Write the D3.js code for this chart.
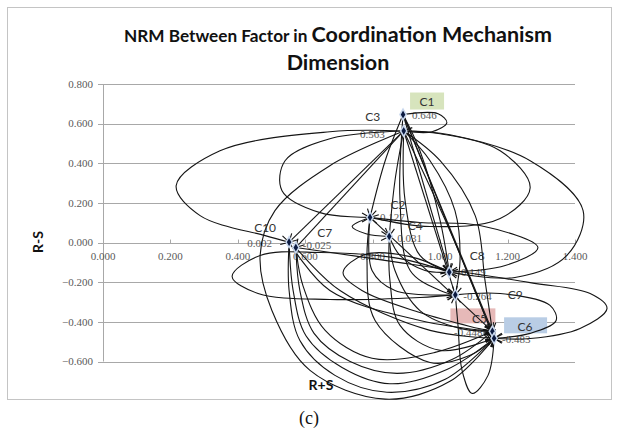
<!DOCTYPE html>
<html><head><meta charset="utf-8">
<script src="https://cdn.jsdelivr.net/npm/d3@7"></script>
<style>body{margin:0;background:#fff}</style>
</head><body>
<svg id="c" width="618" height="434"></svg>
<script>
// ---------- data ----------
const nodeNames  = ["C1","C3","C2","C4","C10","C7","C8","C9","C5","C6"];
const rPlusS     = [0.890,0.892,0.792,0.849,0.552,0.572,1.027,1.045,1.155,1.160];
const rMinusS    = [0.646,0.563,0.127,0.031,0.002,-0.025,-0.149,-0.264,-0.448,-0.483];
const valueText  = ["0.646","0.563","0.127","0.031","0.002","-0.025","-0.149","-0.264","-0.448","-0.483"];
const xTicks = [0.0,0.2,0.4,0.6,0.8,1.0,1.2,1.4];
const yTicks = [0.8,0.6,0.4,0.2,0.0,-0.2,-0.4,-0.6];
const titleLine1a = "NRM Between Factor in ";
const titleLine1b = "Coordination Mechanism";
const titleLine2 = "Dimension";
const xTitle = "R+S", yTitle = "R-S", caption = "(c)";

// influence arrows: [from, to, intermediate points of the curve in (R+S, R-S) units]
const edgeFrom = ["C1","C3","C3","C3","C10","C10","C7","C7","C2","C4","C4","C8","C8","C3","C3","C2","C7","C9","C6",
                  "C3","C3","C1","C3","C3","C3","C1","C3","C1","C3","C1","C2","C2","C4","C2","C10","C7","C1","C3","C1"];
const edgeTo   = ["C3","C10","C2","C6","C6","C6","C5","C5","C6","C6","C5","C9","C5","C2","C8","C8","C6","C6","C9",
                  "C10","C7","C2","C4","C5","C9","C8","C6","C6","C8","C9","C4","C5","C8","C9","C5","C6","C5","C9","C8"];
const edgeVia  = [
  [[0.994,0.650],[1.020,0.605],[0.976,0.559]],
  [[0.673,0.559],[0.347,0.463],[0.217,0.287],[0.288,0.136],[0.481,0.035]],
  [[0.673,0.524],[0.540,0.413],[0.531,0.262],[0.644,0.151]],
  [[0.673,0.388],[0.510,0.161],[0.466,-0.065],[0.501,-0.343],[0.614,-0.645],[0.837,-0.790],[1.029,-0.700]],
  [[0.552,-0.242],[0.584,-0.494],[0.688,-0.670],[0.842,-0.755],[1.015,-0.690]],
  [[0.564,-0.242],[0.602,-0.470],[0.709,-0.630],[0.851,-0.712],[1.020,-0.640]],
  [[0.584,-0.242],[0.626,-0.458],[0.733,-0.600],[0.872,-0.660],[1.035,-0.590]],
  [[0.593,-0.217],[0.659,-0.443],[0.798,-0.584],[0.985,-0.554]],
  [[0.783,-0.091],[0.807,-0.393],[0.970,-0.605],[1.089,-0.569]],
  [[0.851,-0.191],[0.881,-0.418],[1.000,-0.544]],
  [[0.866,-0.141],[0.940,-0.343],[1.059,-0.433]],
  [[0.881,-0.081],[0.644,-0.050],[0.466,-0.065],[0.383,-0.171],[0.460,-0.257],[0.673,-0.287],[0.940,-0.277]],
  [[0.911,-0.071],[0.777,-0.060],[0.712,-0.151],[0.768,-0.242],[0.940,-0.353],[1.089,-0.423]],
  [[1.000,0.549],[1.178,0.463],[1.267,0.277],[1.178,0.121],[0.970,0.081]],
  [[1.029,0.544],[1.267,0.413],[1.424,0.161],[1.376,-0.065],[1.222,-0.176]],
  [[0.940,0.101],[1.118,0.086],[1.290,-0.025],[1.193,-0.116]],
  [[0.881,-0.101],[1.267,-0.202],[1.445,-0.257],[1.495,-0.332],[1.415,-0.433],[1.267,-0.484]],
  [[1.178,-0.257],[1.326,-0.317],[1.344,-0.393],[1.267,-0.458]],
  [[1.142,-0.670],[1.095,-0.761],[1.065,-0.645],[1.053,-0.418]],
  [],
  [],
  [[0.837,0.413]],
  [[0.866,0.312]],
  [[1.000,0.413],[1.104,0.136],[1.133,-0.191]],
  [[0.970,0.413],[1.044,0.161],[1.059,-0.091]],
  [[0.940,0.463],[1.000,0.111]],
  [[1.029,0.060]],
  [],
  [[0.896,0.212],[0.940,-0.065]],
  [[0.881,0.212],[0.911,-0.141],[1.000,-0.242]],
  [[0.739,0.081],[0.780,0.045]],
  [],
  [[0.881,-0.065],[0.955,-0.141]],
  [[0.798,-0.141],[0.866,-0.242]],
  [[0.673,-0.242],[0.940,-0.393]],
  [[0.703,-0.242],[0.970,-0.443]],
  [],
  [],
  []
];

// ---------- layout ----------
const svg = d3.select("#c");
const x = d3.scaleLinear().domain([0, 1.4]).range([103, 575]);
const y = d3.scaleLinear().domain([-0.6, 0.8]).range([361.5, 84]);
const serif = "'Liberation Serif','Times New Roman',serif";
const sans = "Lato,'Open Sans',sans-serif";
const grey = "#5a5a5a";

// chart frame
svg.append("rect").attr("x", 7.5).attr("y", 7.5).attr("width", 604).attr("height", 392)
  .attr("fill", "#fff").attr("stroke", "#c4c4c4").attr("stroke-width", 1);

// gridlines
svg.append("g").selectAll("line").data(yTicks).join("line")
  .attr("x1", x(0) - 5).attr("x2", x(1.4))
  .attr("y1", d => Math.round(y(d)) + 0.5).attr("y2", d => Math.round(y(d)) + 0.5)
  .attr("stroke", "#a8a8a8").attr("stroke-width", 1);
// y axis line
svg.append("line").attr("x1", x(0) + 0.5).attr("x2", x(0) + 0.5)
  .attr("y1", y(0.8)).attr("y2", y(-0.6)).attr("stroke", "#a8a8a8");
// y tick labels
svg.append("g").selectAll("text").data(yTicks).join("text")
  .attr("x", 93).attr("y", d => y(d)).attr("dy", "0.35em")
  .attr("text-anchor", "end").attr("font-family", serif).attr("font-size", 11)
  .attr("fill", grey).text(d3.format(".3f"));
// x ticks on zero line
svg.append("g").selectAll("line").data(xTicks).join("line")
  .attr("x1", d => Math.round(x(d)) + 0.5).attr("x2", d => Math.round(x(d)) + 0.5)
  .attr("y1", y(0) - 3).attr("y2", y(0) + 1).attr("stroke", "#a8a8a8");
svg.append("g").selectAll("text").data(xTicks).join("text")
  .attr("x", d => x(d)).attr("y", y(0) + 14).attr("dy", "0.35em")
  .attr("text-anchor", "middle").attr("font-family", serif).attr("font-size", 11)
  .attr("fill", grey).text(d3.format(".3f"));

// title
const t1 = svg.append("text").attr("x", 338).attr("y", 42).attr("text-anchor", "middle")
  .attr("font-family", sans).attr("font-weight", "bold").attr("fill", "#111");
t1.append("tspan").attr("font-size", 17.2).text(titleLine1a);
t1.append("tspan").attr("font-size", 21.5).text(titleLine1b);
svg.append("text").attr("x", 338).attr("y", 70).attr("text-anchor", "middle")
  .attr("font-family", sans).attr("font-weight", "bold").attr("font-size", 21.5)
  .attr("fill", "#111").text(titleLine2);

// axis titles
svg.append("text").attr("transform", "translate(43,242) rotate(-90)")
  .attr("text-anchor", "middle").attr("font-family", sans).attr("font-weight", "bold")
  .attr("font-size", 14).attr("fill", "#111").text(yTitle);
svg.append("text").attr("x", 321).attr("y", 390).attr("text-anchor", "middle")
  .attr("font-family", sans).attr("font-weight", "bold").attr("font-size", 14)
  .attr("fill", "#111").text(xTitle);

// caption
svg.append("text").attr("x", 309).attr("y", 424).attr("text-anchor", "middle")
  .attr("font-family", serif).attr("font-size", 18).attr("fill", "#111").text(caption);

// nodes table
const nodes = nodeNames.map((n, i) => ({name: n, x: rPlusS[i], y: rMinusS[i], v: valueText[i]}));
const byName = Object.fromEntries(nodes.map(d => [d.name, d]));

// label layout (pixel offsets from the point)
const nameOff = {C1:[24,-13],C3:[-31,-14],C2:[28,-13],C4:[26,-11],C10:[-24,-14],C7:[29,-15],
                 C8:[28,-16],C9:[60,0],C5:[-13,-13],C6:[31,-12]};
const boxOff = {C1:[7,-22,34,17,"#d7e4bd"], C5:[-42,-23,45,15,"#e6b9b8"], C6:[10,-21,43,16,"#b9cde5"]};
const valOff = {C1:[9,1,"start"],C3:[-19,3,"end"],C2:[10,0,"start"],C4:[8,2,"start"],C10:[-17,1,"end"],
                C7:[7,-2.5,"start"],C8:[8,0,"start"],C9:[8,1,"start"],C5:[-10,1,"end"],C6:[8,1,"start"]};

// coloured label boxes (behind everything)
const gBox = svg.append("g");
nodes.filter(d => boxOff[d.name]).forEach(d => {
  const b = boxOff[d.name];
  gBox.append("rect").attr("x", x(d.x) + b[0]).attr("y", y(d.y) + b[1])
    .attr("width", b[2]).attr("height", b[3]).attr("fill", b[4]);
});

// value labels
svg.append("g").selectAll("text").data(nodes).join("text")
  .attr("x", d => x(d.x) + valOff[d.name][0]).attr("y", d => y(d.y) + valOff[d.name][1])
  .attr("dy", "0.35em").attr("text-anchor", d => valOff[d.name][2])
  .attr("font-family", serif).attr("font-size", 11).attr("fill", grey).text(d => d.v);

// arrow marker
svg.append("defs").append("marker").attr("id", "arr")
  .attr("viewBox", "-1 -6 12 12").attr("refX", 9).attr("refY", 0)
  .attr("markerWidth", 12).attr("markerHeight", 12).attr("markerUnits", "userSpaceOnUse")
  .attr("orient", "auto")
  .append("path").attr("d", "M1,-4.5 L9,0 L1,4.5").attr("fill", "none")
  .attr("stroke", "#111").attr("stroke-width", 1.1);

// edges
const line = d3.line().x(p => x(p[0])).y(p => y(p[1])).curve(d3.curveCatmullRom.alpha(0.5));
const edges = edgeFrom.map((f, i) => {
  const a = byName[f], b = byName[edgeTo[i]];
  return [[a.x, a.y], ...edgeVia[i], [b.x, b.y]];
});
svg.append("g").selectAll("path").data(edges).join("path")
  .attr("d", line).attr("fill", "none").attr("stroke", "#151515")
  .attr("stroke-width", 1.1).attr("marker-end", "url(#arr)");

// node markers
svg.append("g").selectAll("path").data(nodes).join("path")
  .attr("transform", d => `translate(${x(d.x)},${y(d.y)})`)
  .attr("d", d3.symbol().type(d3.symbolDiamond).size(34))
  .attr("fill", "#0b1a40").attr("stroke", "#c9d8ee").attr("stroke-width", 1.5);

// node names
svg.append("g").selectAll("text").data(nodes).join("text")
  .attr("x", d => x(d.x) + nameOff[d.name][0]).attr("y", d => y(d.y) + nameOff[d.name][1])
  .attr("dy", "0.35em").attr("text-anchor", "middle")
  .attr("font-family", sans).attr("font-size", 12).attr("fill", "#333").text(d => d.name);
</script>
</body></html>
